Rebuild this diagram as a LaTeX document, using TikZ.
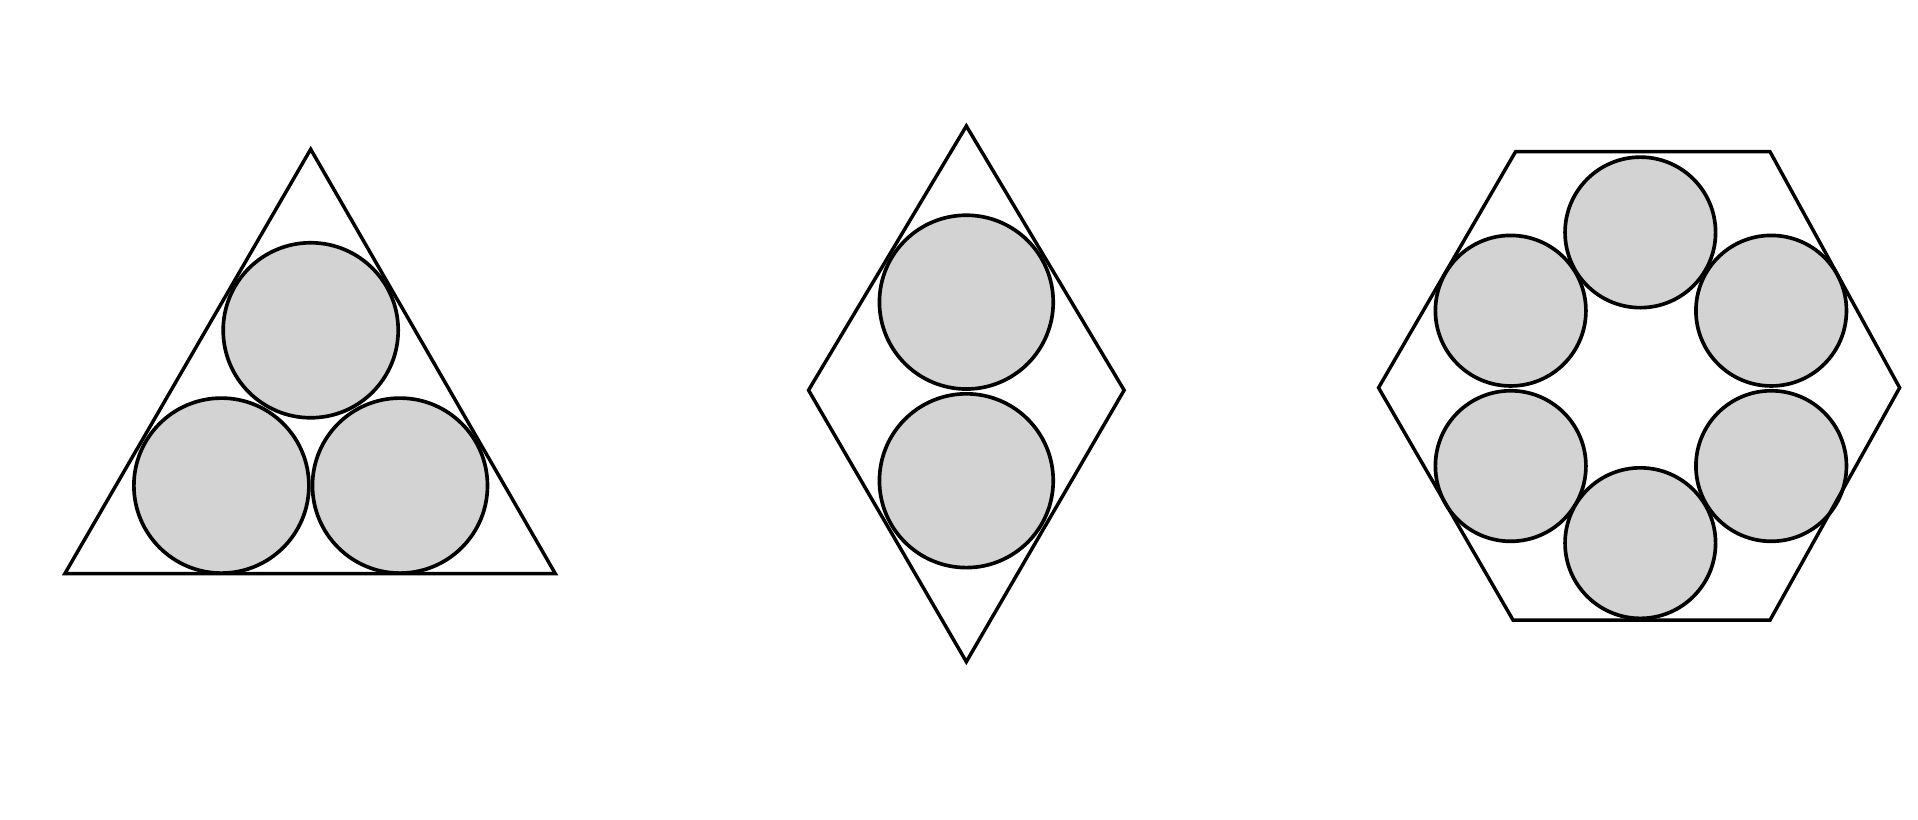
\documentclass[tikz,border=0pt]{standalone}
\usepackage{color}
\usepackage{tikz}
\definecolor{ballgray}{RGB}{211,211,211}

\begin{document}
\begin{tikzpicture}[x=0.01cm,y=-0.01cm]
		\tikzstyle{frame}=[draw=black, line width=0.8pt, line join=miter]
		\tikzstyle{ball}=[circle, draw=black, line width=0.85pt, fill=ballgray, inner sep=0pt]
		\useasboundingbox (0,0) rectangle (1568,670);

		% triangle
		\coordinate (ta) at (254,122);
		\coordinate (tb) at (53,469);
		\coordinate (tc) at (454,469);
		\node [ball,minimum size=1.43cm] (t1) at (181,397) {};
		\node [ball,minimum size=1.43cm] (t2) at (327,397) {};
		\node [ball,minimum size=1.43cm] (t3) at (254,270) {};
		\draw [frame] (ta) -- (tb) -- (tc) -- cycle;

		% rhombus
		\coordinate (ra) at (790,103);
		\coordinate (rb) at (661,319);
		\coordinate (rc) at (790,541);
		\coordinate (rd) at (919,319);
		\node [ball,minimum size=1.42cm] (r1) at (790,247) {};
		\node [ball,minimum size=1.42cm] (r2) at (790,393) {};
		\draw [frame] (ra) -- (rb) -- (rc) -- (rd) -- cycle;

		% hexagon
		\coordinate (ha) at (1127,317);
		\coordinate (hb) at (1239,124);
		\coordinate (hd) at (1447,124);
		\coordinate (he) at (1553,317);
		\coordinate (hf) at (1447,507);
		\coordinate (hg) at (1237,507);
		\foreach \x/\y [count=\i] in {1448/254,1341/190,1235/254,1235/381,1341/444,1448/381}
			\node [ball,minimum size=1.23cm] (h\i) at (\x,\y) {};
		\draw [frame] (ha) -- (hb) -- (hd) -- (he) -- (hf) -- (hg) -- cycle;
	\end{tikzpicture}
\end{document}
